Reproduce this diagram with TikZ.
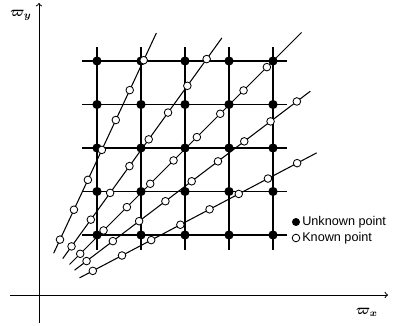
\documentclass[tikz,border=0pt]{standalone}
\usepackage{amsmath}
\usepackage{fontspec}
\setsansfont{Liberation Sans}
\usetikzlibrary{calc}

\begin{document}
\begin{tikzpicture}[x=0.025cm,y=0.025cm,
  axis/.style={line width=0.7pt,->},
  gridline/.style={line width=1.3pt},
  ray/.style={line width=0.75pt},
  unknown/.style={circle,fill=black,inner sep=0pt,minimum size=2.3mm},
  known/.style={circle,draw=black,fill=white,line width=0.6pt,inner sep=0pt,minimum size=1.9mm},
  legendtext/.style={anchor=west,inner sep=0pt,font=\sffamily\fontsize{9}{10}\selectfont}]

\useasboundingbox (0,0) rectangle (393,326);

%---------------------------------------
% Grid parameters
%---------------------------------------
\def\Xlow{97}
\def\dX{44}
\def\Ylow{91}
\def\dY{43.5}

%---------------------------------------
% Axes
%---------------------------------------
\coordinate (xa) at (10,31);
\coordinate (xb) at (388,31);
\coordinate (ya) at (39,3);
\coordinate (yb) at (39,323);
\draw[axis] (xa) -- (xb);
\draw[axis] (ya) -- (yb);
\node (wx) at (367,14) {$\boldsymbol{\varpi_x}$};
\node (wy) at (21,311) {$\boldsymbol{\varpi_y}$};

%---------------------------------------
% Cartesian grid
%---------------------------------------
\foreach \i in {0,...,4} {
  \draw[gridline] (82,{\Ylow+\i*\dY}) -- (287,{\Ylow+\i*\dY});
  \draw[gridline] ({\Xlow+\i*\dX},76) -- ({\Xlow+\i*\dX},279);
}

%---------------------------------------
% Radial lines (angle / last index / end radius)
%---------------------------------------
\coordinate (c) at (30,22);
\foreach \ang/\n/\rend in {65/6/299, 54.2/7/328, 45/8/384, 37.2/8/352, 27.8/7/324} {
  \draw[ray] ($(c)+(\ang:56)$) -- ($(c)+(\ang:\rend)$);
}

% Unknown points on the grid
\foreach \i in {0,...,4} {
  \foreach \j in {0,...,4} {
    \node[unknown] (u-\i-\j) at ({\Xlow+\i*\dX},{\Ylow+\j*\dY}) {};
  }
}

% Known points on the radial lines
\foreach \ang/\n/\l in {65/6/1, 54.2/7/2, 45/8/3, 37.2/8/4, 27.8/7/5} {
  \foreach \k in {0,...,\n} {
    \node[known] (k-\l-\k) at ($(c)+(\ang:{71+33*\k})$) {};
  }
}

%---------------------------------------
% Legend
%---------------------------------------
\node[unknown,minimum size=2mm] (legu) at (296,104) {};
\node[legendtext] (legutext) at (302,104) {Unknown point};
\node[known] (legk) at (296,88) {};
\node[legendtext] (legktext) at (302,88) {Known point};

\end{tikzpicture}
\end{document}
